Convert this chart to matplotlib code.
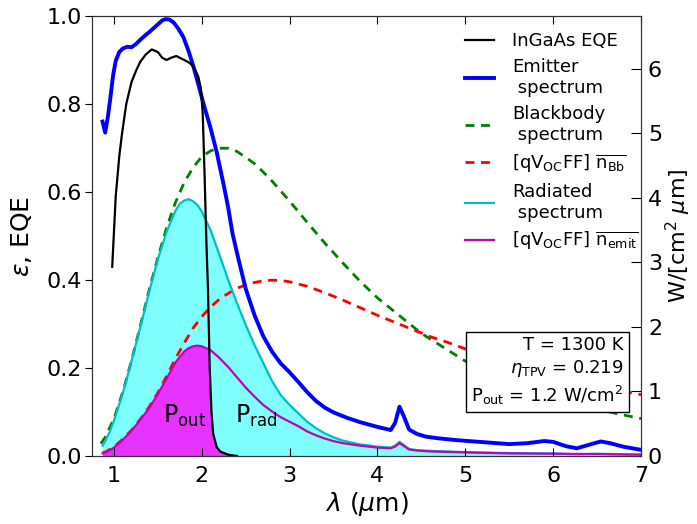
import numpy as np
import matplotlib
matplotlib.use("Agg")
import matplotlib.pyplot as plt
from matplotlib.path import Path

plt.rcParams['font.family'] = ['DejaVu Sans']
plt.rcParams['mathtext.fontset'] = 'dejavusans'

# ---------------- data ----------------
# InGaAs EQE (left axis)
eqe_wl = [0.98, 1.02, 1.06, 1.09, 1.14, 1.20, 1.25, 1.30, 1.36, 1.43, 1.50, 1.55,
          1.60, 1.65, 1.71, 1.77, 1.82, 1.87, 1.92, 1.96, 1.99, 2.01, 2.03, 2.05,
          2.07, 2.09, 2.11, 2.13, 2.17, 2.21, 2.30, 2.40]
eqe = [0.43, 0.59, 0.68, 0.73, 0.80, 0.85, 0.875, 0.896, 0.912, 0.924, 0.918, 0.905,
       0.900, 0.905, 0.909, 0.903, 0.898, 0.892, 0.880, 0.862, 0.835, 0.78, 0.65, 0.50,
       0.38, 0.20, 0.10, 0.05, 0.02, 0.01, 0.003, 0.0]

# Emitter spectrum (left axis)
emit_wl = [0.87, 0.90, 0.93, 0.96, 0.99, 1.02, 1.06, 1.10, 1.15, 1.20, 1.25, 1.30,
           1.35, 1.40, 1.45, 1.50, 1.55, 1.59, 1.63, 1.68, 1.73, 1.79, 1.85, 1.90,
           1.96, 2.02, 2.10, 2.17, 2.25, 2.30, 2.35, 2.42, 2.50, 2.60, 2.70, 2.80,
           2.90, 3.00, 3.10, 3.20, 3.30, 3.40, 3.50, 3.65, 3.80, 4.00, 4.15, 4.20,
           4.25, 4.30, 4.36, 4.45, 4.55, 4.70, 4.90, 5.10, 5.30, 5.50, 5.70, 5.90,
           6.00, 6.15, 6.27, 6.40, 6.54, 6.65, 6.80, 7.00]
emit = [0.76, 0.735, 0.77, 0.815, 0.865, 0.898, 0.918, 0.926, 0.930, 0.929, 0.936, 0.946,
        0.955, 0.963, 0.972, 0.981, 0.990, 0.993, 0.992, 0.985, 0.972, 0.952, 0.920, 0.888,
        0.845, 0.800, 0.745, 0.690, 0.615, 0.565, 0.505, 0.445, 0.380, 0.320, 0.272, 0.237,
        0.210, 0.190, 0.168, 0.145, 0.125, 0.110, 0.099, 0.087, 0.077, 0.066, 0.059, 0.075,
        0.112, 0.090, 0.060, 0.050, 0.044, 0.040, 0.036, 0.033, 0.030, 0.027, 0.029, 0.034,
        0.032, 0.022, 0.0175, 0.025, 0.033, 0.029, 0.021, 0.014]

# Blackbody spectrum (right axis, W/cm^2/um)
bb_wl = [0.85, 0.90, 1.0, 1.1, 1.2, 1.3, 1.4, 1.5, 1.6, 1.7, 1.8, 1.9, 2.0, 2.1, 2.2,
         2.3, 2.4, 2.5, 2.6, 2.7, 2.8, 3.0, 3.2, 3.4, 3.6, 3.8, 4.0, 4.5, 5.0, 5.5,
         6.0, 6.5, 7.0]
bb = [0.19, 0.29, 0.58, 0.99, 1.48, 2.02, 2.57, 3.08, 3.54, 3.93, 4.24, 4.47, 4.64, 4.73, 4.77,
      4.77, 4.72, 4.63, 4.53, 4.40, 4.26, 3.95, 3.62, 3.30, 3.00, 2.71, 2.45, 1.90, 1.47, 1.15,
      0.90, 0.72, 0.58]

# [qVocFF] n_Bb (right axis)
nbb_wl = [0.87, 0.90, 1.0, 1.1, 1.2, 1.3, 1.4, 1.5, 1.6, 1.7, 1.8, 1.9, 2.0, 2.1, 2.2,
          2.3, 2.4, 2.5, 2.6, 2.7, 2.8, 2.9, 3.0, 3.2, 3.4, 3.6, 3.8, 4.0, 4.2, 4.4,
          4.6, 4.8, 5.0, 5.5, 6.0, 6.5, 7.0]
nbb = [0.05, 0.06, 0.14, 0.26, 0.40, 0.57, 0.76, 0.98, 1.24, 1.51, 1.75, 1.98, 2.16, 2.31, 2.43,
       2.52, 2.60, 2.65, 2.69, 2.715, 2.725, 2.72, 2.70, 2.63, 2.53, 2.42, 2.30, 2.18, 2.07, 1.96,
       1.85, 1.76, 1.66, 1.44, 1.25, 1.09, 0.95]

# Radiated spectrum (right axis)
rad_wl = [0.87, 0.90, 0.95, 1.0, 1.1, 1.2, 1.3, 1.4, 1.5, 1.6, 1.7, 1.75, 1.8, 1.85, 1.9,
          1.95, 2.0, 2.1, 2.2, 2.3, 2.4, 2.5, 2.6, 2.7, 2.8, 2.9, 3.0, 3.1, 3.2, 3.3,
          3.4, 3.5, 3.6, 3.8, 4.0, 4.15, 4.2, 4.25, 4.3, 4.36, 4.45, 4.6, 5.0, 5.5,
          6.0, 6.27, 6.5, 7.0]
rad = [0.16, 0.23, 0.37, 0.55, 0.97, 1.47, 2.00, 2.54, 3.05, 3.48, 3.80, 3.91, 3.96, 3.98, 3.95,
       3.89, 3.79, 3.50, 3.12, 2.73, 2.37, 2.03, 1.72, 1.44, 1.16, 0.94, 0.79, 0.66, 0.53, 0.43,
       0.35, 0.29, 0.24, 0.18, 0.145, 0.13, 0.16, 0.22, 0.17, 0.11, 0.09, 0.08, 0.06, 0.045,
       0.04, 0.025, 0.035, 0.02]

# [qVocFF] n_emit (right axis)
nem_wl = [0.87, 0.90, 1.0, 1.1, 1.2, 1.3, 1.4, 1.5, 1.6, 1.7, 1.8, 1.85, 1.9, 1.95, 2.0,
          2.1, 2.2, 2.3, 2.4, 2.5, 2.6, 2.7, 2.8, 2.9, 3.0, 3.1, 3.2, 3.3, 3.4, 3.5,
          3.6, 3.8, 4.0, 4.15, 4.2, 4.25, 4.3, 4.36, 4.45, 4.6, 5.0, 5.5, 6.0, 6.5, 7.0]
nem = [0.04, 0.05, 0.13, 0.25, 0.39, 0.56, 0.74, 0.96, 1.20, 1.45, 1.62, 1.67, 1.70, 1.71, 1.70,
       1.64, 1.52, 1.38, 1.22, 1.06, 0.92, 0.79, 0.69, 0.60, 0.53, 0.46, 0.38, 0.32, 0.27, 0.23,
       0.20, 0.16, 0.13, 0.12, 0.145, 0.20, 0.155, 0.10, 0.085, 0.07, 0.055, 0.04, 0.035, 0.03, 0.02]

x_ticks = [1, 2, 3, 4, 5, 6, 7]
left_ticks = [0.0, 0.2, 0.4, 0.6, 0.8, 1.0]
right_ticks = [0, 1, 2, 3, 4, 5, 6]

# ---------------- figure ----------------
fig = plt.figure(figsize=(6.97, 5.24), dpi=100)
ax1 = fig.add_axes([0.132, 0.1298, 0.7877, 0.8397])
ax2 = ax1.twinx()
ax1.set_zorder(ax2.get_zorder() + 1)
ax1.patch.set_visible(False)

XMIN, XMAX = 0.75, 7.0
ax1.set_xlim(XMIN, XMAX)
ax1.set_ylim(0, 1.0)
ax2.set_ylim(0, 6.82)

# fills
ax2.fill_between(rad_wl, 0, rad, color=(0.5, 1.0, 1.0), lw=0, zorder=1)
pfill = ax2.fill_between(nem_wl, 0, nem, color=(0.9, 0.2, 1.0), lw=0, zorder=2)
# clip the P_out fill to the region left of the EQE cut-off
ipk = int(np.argmax(np.array(eqe_wl) >= 1.9))
verts = [(XMIN, 0.0), (XMIN, eqe[ipk])] + list(zip(eqe_wl[ipk:], eqe[ipk:])) + [(eqe_wl[-1], 0.0)]
pfill.set_clip_path(Path(verts), ax1.transData)

h_bb, = ax2.plot(bb_wl, bb, color='g', ls='--', lw=2, dashes=(3.2, 2.4), zorder=3)
h_nbb, = ax2.plot(nbb_wl, nbb, color='r', ls='--', lw=2, dashes=(3.2, 2.4), zorder=3)
h_rad, = ax2.plot(rad_wl, rad, color='c', lw=1.6, zorder=4)
h_nem, = ax2.plot(nem_wl, nem, color='m', lw=1.6, zorder=4)

h_eqe, = ax1.plot(eqe_wl, eqe, color='k', lw=1.6, zorder=5)
h_emit, = ax1.plot(emit_wl, emit, color='b', lw=2.8, zorder=4)

ax1.text(1.56, 0.075, r'P$_{\mathrm{out}}$', fontsize=17, va='baseline')
ax1.text(2.38, 0.075, r'P$_{\mathrm{rad}}$', fontsize=17, va='baseline')

ax1.text(0.968, 0.272,
         'T = 1300 K\n' + r'$\eta_{\mathrm{TPV}}$ = 0.219' + '\n' + r'P$_{\mathrm{out}}$ = 1.2 W/cm$^2$',
         transform=ax1.transAxes, ha='right', va='top', multialignment='right',
         fontsize=13, linespacing=1.25,
         bbox=dict(boxstyle='square,pad=0.3', fc='white', ec='black', lw=1), zorder=10)

handles = [h_eqe, h_emit, h_bb, h_nbb, h_rad, h_nem]
labels = ['InGaAs EQE', 'Emitter\n spectrum', 'Blackbody\n spectrum',
          r'[qV$_{\mathrm{OC}}$FF] $\overline{\mathrm{n}_{\mathrm{Bb}}}$',
          'Radiated\n spectrum',
          r'[qV$_{\mathrm{OC}}$FF] $\overline{\mathrm{n}_{\mathrm{emit}}}$']
leg = ax1.legend(handles, labels, loc='upper right', bbox_to_anchor=(1.025, 1.0),
                 frameon=False, fontsize=13, handlelength=1.6, labelspacing=0.45,
                 handletextpad=1.0)

ax1.set_xticks(x_ticks)
ax1.set_yticks(left_ticks)
ax1.set_yticklabels([f'{v:.1f}' for v in left_ticks])
ax2.set_yticks(right_ticks)

ax1.tick_params(axis='x', direction='in', top=True, length=6, labelsize=16, pad=7)
ax1.tick_params(axis='y', direction='out', length=5, labelsize=16, pad=2)
ax2.tick_params(axis='y', direction='in', length=7, labelsize=16, pad=5)

ax1.set_xlabel(r'$\lambda\ (\mu$m)', fontsize=18, labelpad=3)
ax1.set_ylabel(r'$\epsilon$, EQE', fontsize=18)
ax1.yaxis.set_label_coords(-0.105, 0.5)
ax2.set_ylabel(r'W/[cm$^2$ $\mu$m]', fontsize=16)
ax2.yaxis.set_label_coords(1.042, 0.5)

for sp in ax1.spines.values():
    sp.set_color('#333333')
for sp in ax2.spines.values():
    sp.set_color('#333333')

fig.savefig('out.png', dpi=100)
